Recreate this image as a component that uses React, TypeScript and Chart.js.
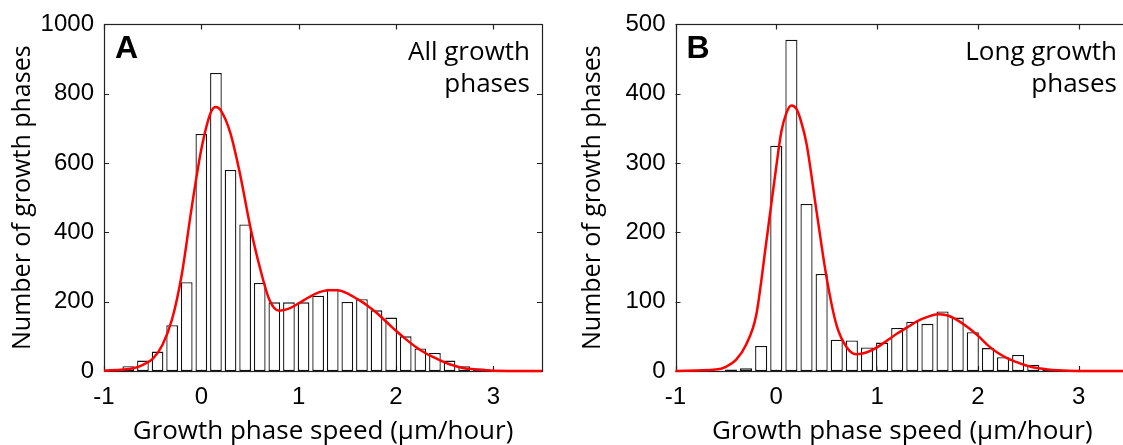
import React, { useEffect, useRef } from "react";
import { Chart, registerables } from "chart.js";
Chart.register(...registerables);

// ---------- data ----------
const xTicks = [-1, 0, 1, 2, 3];
const yTicksA = [0, 200, 400, 600, 800, 1000];
const yTicksB = [0, 100, 200, 300, 400, 500];

const binsA = [-0.75, -0.6, -0.45, -0.3, -0.15, 0, 0.15, 0.3, 0.45, 0.6, 0.75, 0.9, 1.05, 1.2, 1.35, 1.5, 1.65, 1.8, 1.95, 2.1, 2.25, 2.4, 2.55, 2.7, 2.85, 3.0];
const countsA = [14, 30, 56, 132, 256, 684, 860, 580, 423, 254, 198, 198, 198, 217, 237, 199, 207, 175, 154, 100, 65, 52, 30, 14, 7, 2];

const fitXA = [-1, -0.8, -0.7, -0.6, -0.5, -0.4, -0.3, -0.2, -0.1, 0, 0.1, 0.15, 0.2, 0.3, 0.4, 0.5, 0.6, 0.7, 0.8, 0.9, 1.0, 1.1, 1.2, 1.3, 1.4, 1.5, 1.6, 1.7, 1.8, 1.9, 2.0, 2.1, 2.2, 2.3, 2.4, 2.5, 2.6, 2.7, 2.8, 2.9, 3.0, 3.5];
const fitYA = [1, 4, 8, 18, 35, 75, 150, 280, 470, 640, 748, 762, 752, 685, 565, 420, 300, 205, 174, 180, 195, 212, 226, 233, 233, 224, 208, 190, 168, 142, 116, 92, 70, 52, 38, 25, 15, 8, 5, 3, 1, 0];

const binsB = [-0.45, -0.3, -0.15, 0, 0.15, 0.3, 0.45, 0.6, 0.75, 0.9, 1.05, 1.2, 1.35, 1.5, 1.65, 1.8, 1.95, 2.1, 2.25, 2.4, 2.55, 2.7];
const countsB = [2, 4, 36, 325, 478, 241, 140, 45, 44, 34, 41, 62, 71, 68, 86, 77, 56, 33, 20, 23, 9, 2];

const fitXB = [-1, -0.6, -0.5, -0.4, -0.3, -0.2, -0.1, 0, 0.05, 0.1, 0.15, 0.2, 0.25, 0.3, 0.4, 0.5, 0.6, 0.7, 0.8, 0.9, 1.0, 1.1, 1.2, 1.3, 1.4, 1.5, 1.6, 1.7, 1.8, 1.9, 2.0, 2.1, 2.2, 2.3, 2.4, 2.5, 2.6, 2.8, 3.0, 3.5];
const fitYB = [0, 2, 6, 16, 38, 80, 185, 295, 345, 372, 383, 378, 358, 328, 230, 134, 65, 34, 24, 27, 34, 44, 54, 63, 72, 78, 82, 80, 73, 63, 51, 37, 26, 18, 12, 7, 4, 1, 0, 0];

const TICK_FONT = { family: "'Liberation Sans', Arial, sans-serif", size: 24 };
const TITLE_FONT = { family: "'Open Sans', sans-serif", size: 25, lineHeight: 1.2 };

const framePlugin = {
  id: "frameTicks",
  beforeDatasetsDraw(chart: any) {
    const { ctx, chartArea, scales } = chart;
    const { left, right, top, bottom } = chartArea;
    ctx.save();
    ctx.strokeStyle = "#222";
    ctx.lineWidth = 1.2;
    ctx.strokeRect(Math.round(left) + 0.5, Math.round(top) + 0.5, Math.round(right - left), Math.round(bottom - top));
    const L = 5;
    ctx.beginPath();
    scales.x.ticks.forEach((t: any) => {
      const p = Math.round(scales.x.getPixelForValue(t.value)) + 0.5;
      ctx.moveTo(p, bottom); ctx.lineTo(p, bottom - L);
      ctx.moveTo(p, top); ctx.lineTo(p, top + L);
    });
    scales.y.ticks.forEach((t: any) => {
      const p = Math.round(scales.y.getPixelForValue(t.value)) + 0.5;
      ctx.moveTo(left, p); ctx.lineTo(left + L, p);
      ctx.moveTo(right, p); ctx.lineTo(right - L, p);
    });
    ctx.stroke();
    ctx.restore();
  },
  afterDraw(chart: any) {
    const o = chart.options.plugins.frameTicks;
    const { ctx, chartArea } = chart;
    ctx.save();
    ctx.fillStyle = "#000";
    ctx.textBaseline = "alphabetic";
    ctx.textAlign = "left";
    ctx.font = "bold 32px 'Liberation Sans', Arial, sans-serif";
    ctx.fillText(o.label, chartArea.left + 11, chartArea.top + 34);
    ctx.textAlign = "right";
    ctx.font = "26px 'Open Sans', sans-serif";
    o.lines.forEach((l: string, i: number) => {
      ctx.fillText(l, chartArea.right - 12, chartArea.top + 36 + i * 32);
    });
    ctx.restore();
  },
};

function makeConfig(bins: number[], counts: number[], fx: number[], fy: number[], yTicks: number[], yMax: number, yAxisW: number, yTitlePad: number, padRight: number, label: string, lines: string[]) {
  return {
    type: "bar",
    data: {
      datasets: [
        {
          type: "line",
          data: fx.map((x, i) => ({ x, y: fy[i] })),
          borderColor: "rgb(255,0,0)",
          borderWidth: 2.5,
          pointRadius: 0,
          cubicInterpolationMode: "monotone",
          clip: false,
          order: 0,
        },
        {
          type: "bar",
          data: bins.map((x, i) => ({ x, y: counts[i] })),
          backgroundColor: "#ffffff",
          borderColor: "#111",
          borderWidth: 1.3,
          borderSkipped: false,
          barPercentage: 0.8,
          categoryPercentage: 1,
          order: 1,
        },
      ],
    },
    options: {
      responsive: false,
      animation: false,
      events: [],
      layout: { padding: { top: 19, right: padRight, left: 0, bottom: 0 } },
      plugins: {
        legend: { display: false },
        tooltip: { enabled: false },
        frameTicks: { label, lines },
      },
      scales: {
        x: {
          type: "linear",
          min: -1,
          max: 3.5,
          offset: false,
          grid: { display: false, drawTicks: false, offset: false },
          border: { display: false },
          afterBuildTicks: (s: any) => { s.ticks = xTicks.map((v) => ({ value: v })); },
          afterFit: (s: any) => { s.height = 74; },
          ticks: { font: TICK_FONT, color: "#000", padding: 12, maxRotation: 0, autoSkip: false, callback: (v: any) => String(v) },
          title: {
            display: true,
            text: "Growth phase speed (µm/hour)",
            font: { ...TITLE_FONT, size: 26, lineHeight: 1 },
            color: "#000",
            padding: { top: 0, bottom: 0 },
          },
        },
        y: {
          type: "linear",
          min: 0,
          max: yMax,
          grid: { display: false, drawTicks: false },
          border: { display: false },
          afterBuildTicks: (s: any) => { s.ticks = yTicks.map((v) => ({ value: v })); },
          afterFit: (s: any) => { s.width = yAxisW; },
          ticks: { font: TICK_FONT, color: "#000", padding: 10, autoSkip: false, callback: (v: any) => String(v) },
          title: {
            display: true,
            text: "Number of growth phases",
            font: TITLE_FONT,
            color: "#000",
            padding: { top: yTitlePad, bottom: 0 },
          },
        },
      },
    },
    plugins: [framePlugin],
  };
}

function Panel(props: { cfg: any; left: number; width: number }) {
  const ref = useRef<HTMLCanvasElement>(null);
  useEffect(() => {
    const chart = new Chart(ref.current as HTMLCanvasElement, props.cfg);
    return () => chart.destroy();
  }, []);
  return (
    <canvas
      ref={ref}
      width={props.width}
      height={445}
      style={{ position: "absolute", left: props.left, top: 0, width: props.width, height: 445 }}
    />
  );
}

export default function App() {
  const cfgA = makeConfig(binsA, countsA, fitXA, fitYA, yTicksA, 1000, 104, 8, 18, "A", ["All growth", "phases"]);
  const cfgB = makeConfig(binsB, countsB, fitXB, fitYB, yTicksB, 500, 115.5, 18, 6, "B", ["Long growth", "phases"]);
  return (
    <div style={{ position: "absolute", left: 0, top: 0, width: 1123, height: 445, overflow: "hidden", background: "#fff" }}>
      <Panel cfg={cfgA} left={0} width={560} />
      <Panel cfg={cfgB} left={560} width={575} />
    </div>
  );
}
